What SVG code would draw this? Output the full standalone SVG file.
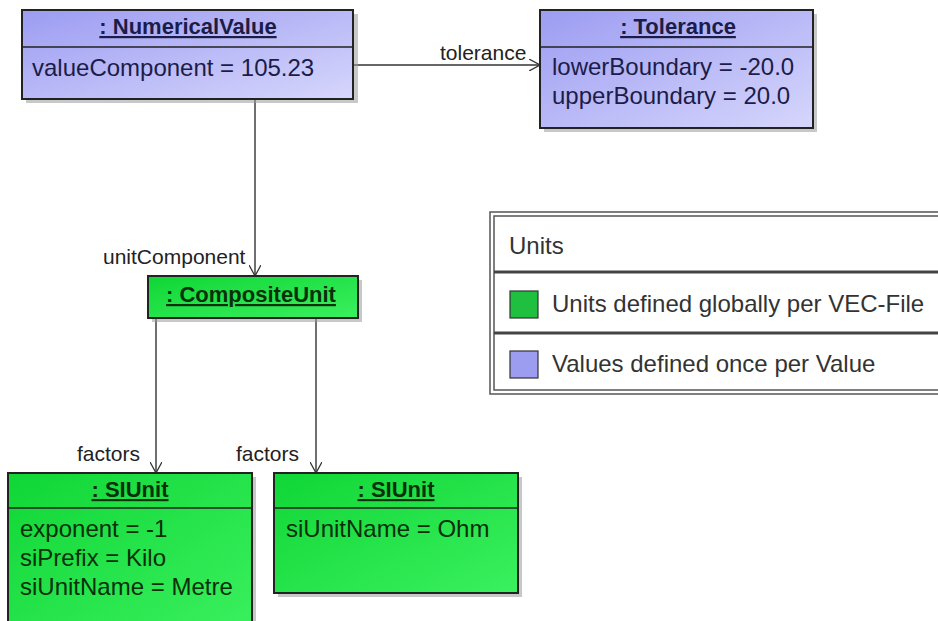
<svg xmlns="http://www.w3.org/2000/svg" width="938" height="621" viewBox="0 0 938 621">
<defs>
<linearGradient id="gBlue" x1="0" y1="0" x2="1" y2="1">
<stop offset="0" stop-color="#9c9cf2"/><stop offset="1" stop-color="#d6d6fc"/>
</linearGradient>
<linearGradient id="gGreen" x1="0" y1="0" x2="1" y2="1">
<stop offset="0" stop-color="#10d636"/><stop offset="1" stop-color="#3af05e"/>
</linearGradient>
<marker id="arr" viewBox="0 0 12 12" refX="11" refY="6" markerWidth="12" markerHeight="12" markerUnits="userSpaceOnUse" orient="auto">
<path d="M0,0 L11,6 L0,12" fill="none" stroke="#333" stroke-width="1.3"/>
</marker>
</defs>
<style>
.shadow{fill:#9a9a9a;opacity:0.55}
.box{stroke:#222;stroke-width:2}
.sep{stroke:#222;stroke-width:1.6}
.title{font-family:"Liberation Sans",Arial,sans-serif;font-size:22px;font-weight:bold;text-anchor:middle;text-decoration:underline}
.attr{font-family:"Liberation Sans",Arial,sans-serif;font-size:24px}
.bt{fill:#1c1c48}
.gt{fill:#0a300a}
.lbl{font-family:"Liberation Sans",Arial,sans-serif;font-size:21px;fill:#222}
.leg{font-family:"Liberation Sans",Arial,sans-serif;font-size:24px;fill:#333}
.conn{stroke:#333;stroke-width:1.4;fill:none}
</style>
<rect width="938" height="621" fill="#ffffff"/>

<g id="connectors">
<line class="conn" x1="354" y1="65" x2="540" y2="65" marker-end="url(#arr)"/>
<text class="lbl" x="440" y="60">tolerance</text>
<line class="conn" x1="255" y1="99" x2="255" y2="276" marker-end="url(#arr)"/>
<text class="lbl" x="103" y="264">unitComponent</text>
<line class="conn" x1="156" y1="318" x2="156" y2="473" marker-end="url(#arr)"/>
<text class="lbl" x="77" y="461">factors</text>
<line class="conn" x1="316" y1="318" x2="316" y2="473" marker-end="url(#arr)"/>
<text class="lbl" x="236" y="461">factors</text>
</g>

<g id="numericalValue">
<rect class="shadow" x="26" y="14" width="332" height="89"/>
<rect class="box" x="22" y="10" width="331" height="89" fill="url(#gBlue)"/>
<line class="sep" x1="22" y1="47" x2="353" y2="47"/>
<text class="title bt" x="188" y="34">: NumericalValue</text>
<text class="attr bt" x="32" y="76">valueComponent = 105.23</text>
</g>

<g id="tolerance">
<rect class="shadow" x="544" y="14" width="273" height="118"/>
<rect class="box" x="540" y="10" width="273" height="118" fill="url(#gBlue)"/>
<line class="sep" x1="540" y1="47" x2="813" y2="47"/>
<text class="title bt" x="678" y="34">: Tolerance</text>
<text class="attr bt" x="552" y="75">lowerBoundary = -20.0</text>
<text class="attr bt" x="552" y="104">upperBoundary = 20.0</text>
</g>

<g id="compositeUnit">
<rect class="shadow" x="152" y="280" width="210" height="42"/>
<rect class="box" x="148" y="276" width="210" height="42" fill="url(#gGreen)"/>
<text class="title gt" x="251" y="302">: CompositeUnit</text>
</g>

<g id="siUnit1">
<rect class="shadow" x="12" y="477" width="244" height="160"/>
<rect class="box" x="8" y="473" width="244" height="160" fill="url(#gGreen)"/>
<line class="sep" x1="8" y1="508" x2="252" y2="508"/>
<text class="title gt" x="130" y="497">: SIUnit</text>
<text class="attr gt" x="20" y="537">exponent = -1</text>
<text class="attr gt" x="20" y="566">siPrefix = Kilo</text>
<text class="attr gt" x="20" y="595">siUnitName = Metre</text>
</g>

<g id="siUnit2">
<rect class="shadow" x="278" y="477" width="244" height="120"/>
<rect class="box" x="274" y="473" width="244" height="120" fill="url(#gGreen)"/>
<line class="sep" x1="274" y1="508" x2="518" y2="508"/>
<text class="title gt" x="396" y="497">: SIUnit</text>
<text class="attr gt" x="286" y="537">siUnitName = Ohm</text>
</g>

<g id="legend">
<rect x="490" y="212" width="470" height="182" fill="#ffffff" stroke="#555" stroke-width="1.5"/>
<rect x="494" y="216" width="470" height="174" fill="none" stroke="#555" stroke-width="1.5"/>
<line x1="494" y1="272" x2="938" y2="272" stroke="#444" stroke-width="3"/>
<line x1="494" y1="333" x2="938" y2="333" stroke="#444" stroke-width="3"/>
<text class="leg" x="509" y="254">Units</text>
<rect x="510" y="291" width="28" height="27" fill="#1fbf3f" stroke="#333" stroke-width="1.2"/>
<text class="leg" x="552" y="312">Units defined globally per VEC-File</text>
<rect x="510" y="351" width="28" height="27" fill="#9c9cf0" stroke="#333" stroke-width="1.2"/>
<text class="leg" x="552" y="372">Values defined once per Value</text>
</g>
</svg>
